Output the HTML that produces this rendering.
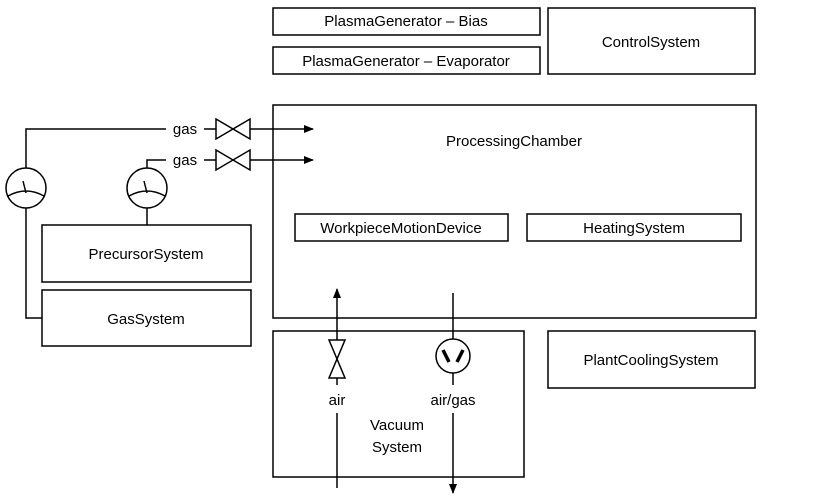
<!DOCTYPE html>
<html><head><style>body{margin:0;background:#fff}svg{display:block}text{font-family:"Liberation Sans",sans-serif;font-size:15px;fill:#000}</style></head><body>
<svg width="813" height="499" viewBox="0 0 813 499">
<defs><marker id="a" markerWidth="10" markerHeight="8" refX="9" refY="4" orient="auto" markerUnits="userSpaceOnUse"><path d="M0,0L10,4L0,8z" fill="#000"/></marker></defs>
<g fill="none" stroke="#000" stroke-width="1.5">
<rect x="273" y="8" width="267" height="27"/>
<rect x="273" y="47" width="267" height="27"/>
<rect x="548" y="8" width="207" height="66"/>
<rect x="273" y="105" width="483" height="213"/>
<rect x="295" y="214" width="213" height="27"/>
<rect x="527" y="214" width="214" height="27"/>
<rect x="42" y="225" width="209" height="57"/>
<rect x="42" y="290" width="209" height="56"/>
<rect x="273" y="331" width="251" height="146"/>
<rect x="548" y="331" width="207" height="57"/>
<!-- gas lines -->
<polyline points="26,168 26,129 166,129"/>
<polyline points="147,168 147,160 166,160"/>
<line x1="204" y1="129" x2="216" y2="129"/><line x1="204" y1="160" x2="216" y2="160"/>
<path d="M216,119L250,139L250,119L216,139z"/>
<path d="M216,150L250,170L250,150L216,170z"/>
<line x1="250" y1="129" x2="313" y2="129" marker-end="url(#a)"/>
<line x1="250" y1="160" x2="313" y2="160" marker-end="url(#a)"/>
<circle cx="26" cy="188" r="20"/><circle cx="147" cy="188" r="20"/>
<path d="M8,196Q26,186 44,196"/><path d="M129,196Q147,186 165,196"/>
<line x1="26" y1="193" x2="23" y2="181"/><line x1="147" y1="193" x2="144" y2="181"/>
<polyline points="26,208 26,318 42,318"/>
<line x1="147" y1="208" x2="147" y2="225"/>
<!-- vacuum -->
<line x1="337" y1="340" x2="337" y2="289" marker-end="url(#a)"/>
<path d="M329,340L345,340L329,378L345,378z"/>
<line x1="337" y1="378" x2="337" y2="385"/>
<line x1="337" y1="413" x2="337" y2="488"/>
<line x1="453" y1="293" x2="453" y2="339"/>
<circle cx="453" cy="356" r="17"/>
<line x1="453" y1="373" x2="453" y2="385"/>
<line x1="453" y1="413" x2="453" y2="493" marker-end="url(#a)"/>
<line x1="443" y1="350" x2="449" y2="362" stroke-width="3.5"/>
<line x1="463" y1="350" x2="457" y2="362" stroke-width="3.5"/>
</g>
<g text-anchor="middle">
<text x="406" y="26">PlasmaGenerator – Bias</text>
<text x="406" y="66">PlasmaGenerator – Evaporator</text>
<text x="651" y="47">ControlSystem</text>
<text x="514" y="146">ProcessingChamber</text>
<text x="401" y="233">WorkpieceMotionDevice</text>
<text x="634" y="233">HeatingSystem</text>
<text x="146" y="259">PrecursorSystem</text>
<text x="146" y="324">GasSystem</text>
<text x="651" y="365">PlantCoolingSystem</text>
<text x="185" y="134">gas</text>
<text x="185" y="165">gas</text>
<text x="337" y="405">air</text>
<text x="453" y="405">air/gas</text>
<text x="397" y="430">Vacuum</text>
<text x="397" y="452">System</text>
</g>
</svg>
</body></html>
